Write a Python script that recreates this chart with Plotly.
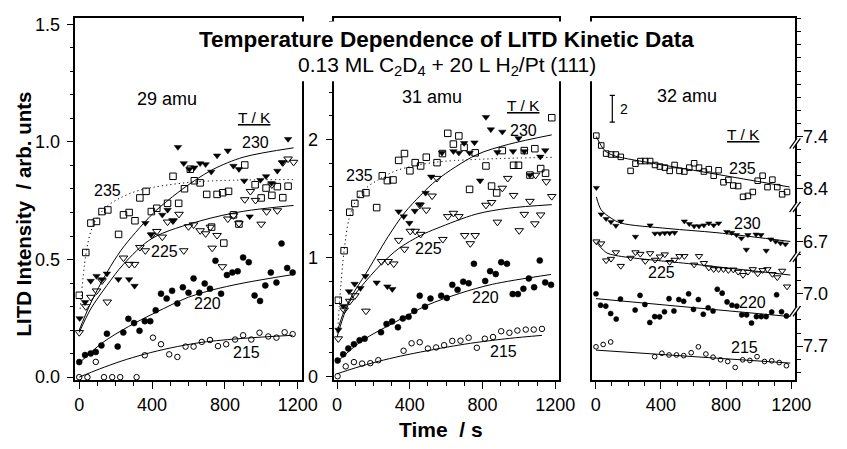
import plotly.graph_objects as go

W, H = 847, 449
FONT = "Liberation Sans, Arial, Helvetica, sans-serif"

# ---------------- data ----------------
# Panel 1 : 29 amu  (LITD intensity / arb. units vs time / s)
p1_t215 = [0, 45, 91, 136, 181, 225, 315, 360, 405, 449, 494, 539, 584, 628, 673, 718, 762, 807, 856, 900, 945, 990, 1038, 1083, 1128, 1172]
p1_v215 = [0.0, 0.0, 0.065, 0.0, 0.0, 0.0, 0.0, 0.093, 0.168, 0.14, 0.097, 0.086, 0.13, 0.13, 0.15, 0.158, 0.132, 0.14, 0.16, 0.178, 0.16, 0.189, 0.173, 0.168, 0.191, 0.183]
p1_t220 = [0, 32, 63, 91, 122, 152, 211, 242, 270, 301, 331, 360, 390, 420, 449, 480, 510, 539, 569, 600, 628, 659, 689, 718, 748, 779, 811, 841, 870, 900, 931, 963, 993, 1022, 1052, 1083, 1111, 1142, 1172]
p1_v220 = [0.064, 0.094, 0.101, 0.107, 0.135, 0.185, 0.13, 0.19, 0.248, 0.23, 0.197, 0.238, 0.238, 0.284, 0.355, 0.334, 0.367, 0.313, 0.382, 0.359, 0.42, 0.359, 0.398, 0.376, 0.495, 0.355, 0.434, 0.445, 0.45, 0.509, 0.489, 0.347, 0.324, 0.39, 0.445, 0.402, 0.568, 0.464, 0.445]
p1_t225 = [0, 36, 64, 95, 125, 154, 243, 274, 304, 333, 363, 399, 426, 456, 485, 515, 548, 574, 600, 628, 664, 694, 720, 730, 757, 786, 816, 847, 877, 909, 940, 968, 999, 1029, 1058, 1088, 1118, 1147, 1177]
p1_v225 = [0.19, 0.30, 0.34, 0.367, 0.41, 0.32, 0.507, 0.48, 0.48, 0.552, 0.538, 0.604, 0.62, 0.596, 0.66, 0.665, 0.693, 0.538, 0.64, 0.648, 0.623, 0.61, 0.638, 0.549, 0.603, 0.47, 0.673, 0.687, 0.653, 0.755, 0.79, 0.752, 0.651, 0.704, 0.818, 0.708, 0.912, 0.928, 0.914]
p1_t230 = [2, 32, 63, 95, 125, 152, 215, 274, 304, 363, 396, 456, 485, 515, 542, 574, 605, 632, 664, 694, 725, 757, 816, 847, 877, 906, 936, 995, 1026, 1056, 1088, 1115, 1147]
p1_v230 = [0.25, 0.319, 0.409, 0.43, 0.416, 0.44, 0.416, 0.416, 0.388, 0.655, 0.607, 0.69, 0.711, 0.665, 0.978, 0.909, 0.884, 0.891, 0.909, 0.905, 0.873, 0.942, 0.963, 0.898, 0.884, 0.835, 0.683, 0.838, 0.854, 0.825, 0.877, 0.912, 1.012]
p1_t235 = [0, 36, 64, 95, 125, 157, 216, 243, 274, 306, 333, 367, 396, 426, 485, 515, 546, 578, 610, 632, 664, 700, 727, 757, 788, 794, 820, 847, 877, 909, 966, 999, 1026, 1058, 1088, 1118, 1147]
p1_v235 = [0.348, 0.53, 0.655, 0.662, 0.704, 0.711, 0.607, 0.69, 0.70, 0.665, 0.762, 0.79, 0.704, 0.718, 0.739, 0.854, 0.739, 0.801, 0.884, 0.835, 0.826, 0.777, 0.638, 0.777, 0.784, 0.57, 0.79, 0.69, 0.651, 0.902, 0.818, 0.762, 0.804, 0.773, 0.81, 0.763, 0.812]
# fitted curves, panel 1
f1_t215 = [0, 112, 230, 360, 500, 673, 900, 1172]
f1_v215 = [0.0, 0.035, 0.068, 0.098, 0.124, 0.148, 0.165, 0.178]
f1_t220 = [0, 125, 270, 420, 600, 727, 900, 1172]
f1_v220 = [0.06, 0.145, 0.215, 0.275, 0.34, 0.37, 0.40, 0.436]
f1_t225 = [0, 63, 152, 243, 400, 668, 900, 1177]
f1_v225 = [0.19, 0.29, 0.39, 0.48, 0.59, 0.665, 0.705, 0.73]
f1_t230 = [0, 63, 152, 230, 309, 417, 542, 632, 739, 900, 1177]
f1_v230 = [0.20, 0.315, 0.445, 0.54, 0.615, 0.705, 0.785, 0.835, 0.885, 0.935, 0.975]
f1_t235 = [5, 36, 64, 100, 150, 220, 333, 632, 1177]
f1_v235 = [0.29, 0.52, 0.62, 0.68, 0.725, 0.76, 0.795, 0.83, 0.84]

# Panel 2 : 31 amu
p2_t215 = [3, 48, 93, 138, 183, 227, 366, 410, 455, 500, 545, 589, 634, 679, 724, 769, 813, 858, 903, 948, 992, 1038, 1082, 1127]
p2_v215 = [0.0, 0.083, 0.119, 0.107, 0.11, 0.135, 0.215, 0.278, 0.287, 0.234, 0.243, 0.262, 0.298, 0.30, 0.325, 0.24, 0.317, 0.331, 0.38, 0.367, 0.386, 0.394, 0.394, 0.40]
p2_t220 = [3, 34, 62, 93, 124, 152, 242, 272, 303, 335, 362, 394, 425, 455, 484, 514, 573, 604, 634, 663, 694, 724, 753, 815, 842, 873, 903, 935, 966, 995, 1025, 1055, 1084, 1115, 1145, 1177]
p2_v220 = [0.132, 0.185, 0.235, 0.27, 0.303, 0.317, 0.372, 0.441, 0.463, 0.413, 0.488, 0.502, 0.551, 0.681, 0.587, 0.656, 0.681, 0.661, 0.772, 0.73, 0.799, 0.785, 0.95, 0.805, 0.888, 0.863, 0.964, 0.95, 0.694, 0.694, 0.739, 0.826, 0.752, 0.978, 0.793, 0.772]
p2_t225 = [7, 39, 70, 98, 159, 245, 281, 312, 339, 371, 403, 430, 456, 460, 491, 523, 550, 582, 609, 640, 670, 702, 733, 760, 819, 850, 882, 909, 939, 971, 1002, 1030, 1061, 1088, 1092, 1120, 1151, 1181]
p2_v225 = [0.317, 0.56, 0.634, 0.681, 0.551, 0.97, 0.97, 0.95, 1.149, 1.074, 1.226, 1.226, 1.446, 1.2, 1.405, 1.524, 1.673, 1.157, 1.35, 1.378, 1.35, 1.19, 1.121, 1.19, 1.446, 1.469, 1.303, 1.59, 1.673, 1.529, 1.231, 1.369, 1.479, 1.289, 1.70, 1.364, 1.645, 1.52]
p2_t230 = [7, 34, 66, 97, 129, 156, 218, 277, 304, 339, 367, 398, 428, 456, 487, 518, 577, 640, 670, 699, 729, 756, 787, 819, 846, 882, 909, 968, 998, 1030, 1061, 1118, 1145]
p2_v230 = [0.392, 0.593, 0.717, 0.78, 0.744, 0.846, 0.791, 0.758, 0.736, 1.392, 1.35, 1.295, 1.397, 1.452, 1.549, 1.686, 1.888, 1.901, 1.888, 1.97, 1.888, 1.975, 1.653, 2.19, 2.086, 1.893, 2.066, 1.901, 2.011, 1.901, 1.70, 1.855, 1.909]
p2_t235 = [7, 39, 70, 98, 129, 159, 218, 249, 277, 308, 339, 371, 401, 430, 460, 491, 550, 580, 609, 640, 670, 699, 729, 760, 819, 850, 878, 909, 971, 998, 1030, 1061, 1088, 1120, 1147, 1181]
p2_v235 = [0.642, 1.061, 1.386, 1.46, 1.537, 1.551, 1.425, 1.694, 1.653, 1.659, 1.824, 1.882, 1.736, 1.805, 1.777, 1.851, 1.805, 1.882, 2.053, 1.962, 2.031, 1.934, 1.579, 1.888, 1.777, 1.607, 1.549, 1.907, 1.783, 1.783, 1.907, 1.70, 1.923, 1.755, 1.716, 2.185]
f2_t215 = [0, 100, 227, 350, 496, 640, 765, 950, 1127]
f2_v215 = [0.02, 0.07, 0.125, 0.17, 0.215, 0.255, 0.285, 0.32, 0.345]
f2_t220 = [0, 138, 317, 496, 675, 855, 1177]
f2_v220 = [0.12, 0.30, 0.455, 0.60, 0.70, 0.777, 0.86]
f2_t225 = [0, 39, 70, 129, 245, 340, 460, 550, 765, 944, 1181]
f2_v225 = [0.33, 0.52, 0.63, 0.75, 0.95, 1.08, 1.19, 1.25, 1.37, 1.42, 1.45]
f2_t230 = [0, 39, 97, 156, 218, 281, 371, 460, 550, 765, 944, 1181]
f2_v230 = [0.37, 0.55, 0.72, 0.86, 1.02, 1.18, 1.38, 1.53, 1.66, 1.87, 1.96, 2.04]
f2_t235 = [3, 20, 39, 66, 100, 160, 227, 330, 550, 1181]
f2_v235 = [0.37, 0.75, 1.06, 1.33, 1.47, 1.59, 1.66, 1.74, 1.81, 1.85]

# Panel 3 : 32 amu (offset traces, 1 unit = one minor tick of the right axis)
p3_t235 = [4, 34, 64, 94, 124, 154, 214, 244, 274, 304, 334, 364, 394, 424, 454, 484, 514, 544, 574, 604, 634, 664, 694, 724, 754, 784, 814, 844, 874, 904, 934, 964, 994, 1024, 1054, 1084, 1114, 1144, 1174]
p3_u235 = [18.07, 17.32, 16.70, 16.63, 16.63, 16.45, 15.38, 15.93, 16.13, 16.13, 16.13, 15.83, 15.71, 15.63, 15.38, 15.83, 15.38, 15.33, 15.63, 15.96, 15.63, 15.33, 15.51, 15.01, 15.43, 14.51, 14.69, 14.26, 14.22, 13.40, 13.47, 13.77, 14.63, 15.01, 14.14, 14.71, 14.14, 13.59, 13.77]
p3_t230 = [4, 34, 64, 94, 124, 154, 244, 334, 364, 394, 424, 454, 484, 544, 574, 604, 634, 664, 694, 724, 754, 804, 834, 864, 894, 924, 934, 984, 1014, 1046, 1074, 1104, 1134, 1164]
p3_u230 = [14.09, 12.07, 11.72, 11.48, 11.2, 11.53, 10.36, 11.23, 10.6, 10.6, 10.63, 10.63, 10.66, 11.53, 11.33, 11.16, 11.16, 11.23, 11.38, 11.23, 11.38, 10.73, 10.66, 10.49, 10.23, 9.37, 10.49, 10.53, 10.49, 9.29, 10.16, 9.99, 9.86, 9.78]
p3_t225 = [4, 34, 64, 94, 124, 154, 214, 244, 274, 304, 334, 364, 394, 424, 454, 484, 514, 544, 604, 634, 664, 694, 724, 754, 784, 814, 844, 874, 904, 934, 964, 994, 1024, 1054, 1084, 1114, 1144, 1174]
p3_u225 = [9.99, 9.84, 8.54, 8.66, 9.16, 8.12, 8.74, 9.16, 9.04, 8.49, 9.09, 8.59, 8.84, 9.0, 8.42, 8.59, 8.87, 8.87, 8.22, 8.87, 8.34, 7.99, 7.87, 7.87, 7.87, 7.8, 7.84, 7.67, 7.43, 7.67, 7.87, 7.54, 7.8, 7.87, 7.5, 7.25, 7.75, 6.55]
p3_t220 = [2, 30, 62, 92, 126, 152, 242, 272, 302, 332, 362, 392, 422, 450, 480, 510, 540, 570, 600, 630, 660, 690, 720, 746, 776, 806, 836, 866, 896, 926, 956, 986, 1016, 1046, 1080, 1110, 1140, 1170]
p3_u220 = [6.0, 5.13, 5.06, 4.49, 4.07, 5.6, 4.76, 5.88, 5.18, 3.81, 4.26, 4.24, 4.63, 5.63, 4.69, 5.56, 5.43, 6.0, 4.81, 5.56, 4.44, 4.93, 4.69, 6.35, 6.05, 5.38, 5.13, 5.06, 4.39, 4.39, 3.77, 4.26, 4.26, 4.26, 4.61, 5.93, 4.63, 4.31]
p3_t215 = [2, 46, 92, 362, 406, 450, 496, 540, 586, 630, 676, 720, 766, 810, 856, 902, 946, 990, 1036, 1080, 1126, 1170]
p3_u215 = [1.95, 2.13, 2.32, 1.2, 1.46, 1.33, 1.33, 1.28, 1.5, 1.95, 1.4, 1.16, 0.96, 0.83, 0.38, 0.96, 0.91, 1.2, 0.83, 0.88, 0.75, 0.51]
f3_t235 = [4, 34, 64, 110, 164, 600, 1190]
f3_u235 = [18.0, 17.3, 16.85, 16.55, 16.38, 15.43, 14.15]
f3_t230 = [4, 34, 94, 154, 444, 744, 1194]
f3_u230 = [13.4, 12.4, 11.78, 11.4, 10.98, 10.66, 9.99]
f3_t225 = [4, 34, 64, 124, 600, 1194]
f3_u225 = [9.9, 9.5, 9.15, 8.92, 8.26, 7.43]
f3_t220 = [2, 1194]
f3_u220 = [5.63, 4.26]
f3_t215 = [2, 1194]
f3_u215 = [1.70, 0.71]

# axis ticks
time_ticks = [0, 400, 800, 1200]
p1_yticks = [0, 0.5, 1.0, 1.5]
p1_ylabels = ["0.0", "0.5", "1.0", "1.5"]
p2_yticks = [0, 1, 2]
p3_yticks = [2, 6, 10, 14, 18]
p3_ylabels = ["7.7", "7.0", "6.7", "8.4", "7.4"]
p3_breaks = [17.49, 12.64, 8.84, 4.69]
scale_bar = [19.1, 21.15]   # a span of 2 units

# ---------------- helpers ----------------
def PX(px):
    return px / W

def PY(py):
    return 1 - py / H

fig = go.Figure()

def pts(xa, ya, t, v, symbol, size, lw=1.0):
    fig.add_trace(go.Scatter(
        x=t, y=v, mode="markers", xaxis=xa, yaxis=ya, hoverinfo="skip",
        marker=dict(symbol=symbol, size=size, color="black",
                    line=dict(color="black", width=lw))))

def curve(xa, ya, t, v, dash="solid"):
    fig.add_trace(go.Scatter(
        x=t, y=v, mode="lines", xaxis=xa, yaxis=ya, hoverinfo="skip",
        line=dict(color="black", width=1, dash=dash, shape="spline", smoothing=0.9)))

SYM = {"235": ("square-open", 6.5, 1.0), "230": ("triangle-down", 6.5, 0.5),
       "225": ("triangle-down-open", 7.5, 1.0), "220": ("circle", 6, 0.5),
       "215": ("circle-open", 5.5, 1.0)}
DOT = "1.2px,3px"

panels = [
    ("x", "y", [("235", p1_t235, p1_v235), ("230", p1_t230, p1_v230), ("225", p1_t225, p1_v225),
                ("220", p1_t220, p1_v220), ("215", p1_t215, p1_v215)],
     [(f1_t235, f1_v235, DOT), (f1_t230, f1_v230, "solid"), (f1_t225, f1_v225, "solid"),
      (f1_t220, f1_v220, "solid"), (f1_t215, f1_v215, "solid")], 1.0),
    ("x2", "y2", [("235", p2_t235, p2_v235), ("230", p2_t230, p2_v230), ("225", p2_t225, p2_v225),
                  ("220", p2_t220, p2_v220), ("215", p2_t215, p2_v215)],
     [(f2_t235, f2_v235, DOT), (f2_t230, f2_v230, "solid"), (f2_t225, f2_v225, "solid"),
      (f2_t220, f2_v220, "solid"), (f2_t215, f2_v215, "solid")], 1.0),
    ("x3", "y3", [("235", p3_t235, p3_u235), ("230", p3_t230, p3_u230), ("225", p3_t225, p3_u225),
                  ("220", p3_t220, p3_u220), ("215", p3_t215, p3_u215)],
     [(f3_t235, f3_u235, "solid"), (f3_t230, f3_u230, "solid"), (f3_t225, f3_u225, "solid"),
      (f3_t220, f3_u220, "solid"), (f3_t215, f3_u215, "solid")], 0.85),
]

for xa, ya, series, fits, sc in panels:
    for t, v, d in fits:
        curve(xa, ya, t, v, d)
    for key, t, v in series:
        s, size, lw = SYM[key]
        pts(xa, ya, t, v, s, size * sc, lw)

# ---------------- axes ----------------
tickfont = dict(family=FONT, size=18, color="black")
base = dict(showline=True, linecolor="black", linewidth=1.6, mirror=True,
            ticks="outside", ticklen=7, tickwidth=1.4, tickcolor="black",
            tickfont=tickfont, showgrid=False, zeroline=False, fixedrange=True)

def xaxis(domain, rng, anchor):
    d = dict(base)
    d.update(domain=domain, range=rng, anchor=anchor, tickmode="array", tickvals=time_ticks,
             minor=dict(dtick=100, tick0=0, ticks="outside", ticklen=4, tickwidth=1.2,
                        tickcolor="black", showgrid=False))
    return d

ydom = [PY(385.7), PY(15)]
ya1 = dict(base); ya1.update(domain=ydom, range=[-0.0125, 1.5283], anchor="x", tickmode="array",
                             tickvals=p1_yticks, ticktext=p1_ylabels, ticklabelstandoff=3,
                             minor=dict(dtick=0.1, tick0=0, ticks="outside", ticklen=4, tickwidth=1.2,
                                        tickcolor="black", showgrid=False))
ya2 = dict(base); ya2.update(domain=ydom, range=[-0.0331, 3.0306], anchor="x2", tickmode="array",
                             tickvals=p2_yticks, ticklabelstandoff=4,
                             minor=dict(dtick=0.2, tick0=0, ticks="outside", ticklen=4, tickwidth=1.2,
                                        tickcolor="black", showgrid=False))
ya3 = dict(base); ya3.update(domain=ydom, range=[-0.5896, 27.075], anchor="x3", side="right",
                             tickmode="array", tickvals=p3_yticks, ticktext=p3_ylabels,
                             ticklabelstandoff=-4,
                             minor=dict(dtick=1, tick0=0, ticks="outside", ticklen=5, tickwidth=1.2,
                                        tickcolor="black", showgrid=False))

fig.update_layout(
    width=W, height=H, margin=dict(l=0, r=0, t=0, b=0),
    paper_bgcolor="white", plot_bgcolor="white", showlegend=False,
    font=dict(family=FONT, color="black"),
    xaxis=xaxis([PX(75), PX(307)], [-21.5, 1224], "y"),
    xaxis2=xaxis([PX(340), PX(570)], [-14.5, 1222], "y2"),
    xaxis3=xaxis([PX(604), PX(810.7)], [-19.8, 1219.8], "y3"),
    yaxis=ya1, yaxis2=ya2, yaxis3=ya3,
)

# ---------------- shapes ----------------
shapes = [dict(type="rect", xref="paper", yref="paper", x0=PX(200), x1=PX(712),
               y0=PY(80), y1=PY(19), fillcolor="white", line=dict(width=0), layer="above")]
# scale bar "2"
shapes.append(dict(type="line", xref="x3", yref="y3", x0=102, x1=102, y0=scale_bar[0], y1=scale_bar[1],
                   line=dict(color="black", width=1.2)))
for yb in scale_bar:
    shapes.append(dict(type="line", xref="x3", yref="y3", x0=86, x1=118, y0=yb, y1=yb,
                       line=dict(color="black", width=1.2)))
# axis break marks on the right axis
x0 = 810.7
y_of_u = lambda u: 377.8 - u * 13.4
for ub in p3_breaks:
    yc = y_of_u(ub)
    a1 = (x0 - 5, yc + 5.5); b1 = (x0 + 2.5, yc - 5)
    a2 = (x0 - 1.5, yc + 5.5); b2 = (x0 + 6, yc - 5)
    path = "M{},{} L{},{} L{},{} L{},{} Z".format(PX(a1[0]), PY(a1[1]), PX(b1[0]), PY(b1[1]),
                                                PX(b2[0]), PY(b2[1]), PX(a2[0]), PY(a2[1]))
    shapes.append(dict(type="path", xref="paper", yref="paper", path=path,
                       fillcolor="white", line=dict(width=0), layer="above"))
    for a, b in ((a1, b1), (a2, b2)):
        shapes.append(dict(type="line", xref="paper", yref="paper", x0=PX(a[0]), y0=PY(a[1]),
                           x1=PX(b[0]), y1=PY(b[1]), line=dict(color="black", width=1.2), layer="above"))
fig.update_layout(shapes=shapes)

# ---------------- text ----------------
def label(text, px, py, size, **kw):
    fig.add_annotation(text=text, x=PX(px), y=PY(py), xref="paper", yref="paper", showarrow=False,
                       xanchor=kw.pop("xanchor", "center"), yanchor="middle",
                       font=dict(family=FONT, size=size, color="black"), **kw)

label("<b>Temperature Dependence of LITD Kinetic Data</b>", 455, 37.5, 22.5)
label("0.13 ML C<sub>2</sub>D<sub>4</sub> + 20 L H<sub>2</sub>/Pt (111)", 455.5, 64, 21)
label("<b>LITD Intensity\u00a0\u00a0/ arb. unts</b>", 21.7, 216, 20.5, textangle=-90)
label("<b>Time\u00a0\u00a0/ s</b>", 449, 436, 21)

panel_text = [
    ("29 amu", 169, 98, 18), ("<u>T / K</u>", 258, 117, 15.5),
    ("230", 259, 143, 16), ("235", 107.5, 191.7, 16), ("225", 166.3, 253.7, 16),
    ("220", 210, 307.5, 16), ("215", 250, 357.5, 16),
    ("31 amu", 440, 96, 18), ("<u>T / K</u>", 533, 105, 15.5),
    ("230", 533, 130, 16), ("235", 366, 176.7, 16), ("225", 436, 251, 16),
    ("220", 495, 301, 16), ("215", 513, 356, 16),
    ("32 amu", 701, 95.5, 18), ("<u>T / K</u>", 759, 135, 15.5),
    ("235", 757.7, 169, 16), ("230", 763, 226, 16), ("225", 675, 276, 16),
    ("220", 768, 306, 16), ("215", 759.7, 352, 16),
]
for txt, px, py, s in panel_text:
    label(txt, px, py, s)
label("2", 630.5, 108.3, 14, xanchor="left")

fig.write_html("out.html")
